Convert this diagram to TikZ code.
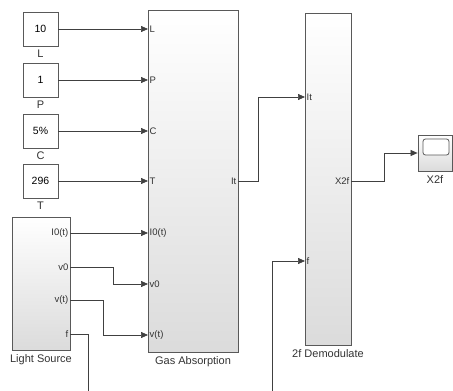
\documentclass[tikz,border=0pt]{standalone}
\usepackage{fontspec}
\setmainfont{Liberation Sans}
\usetikzlibrary{arrows.meta,positioning}

\begin{document}
\begin{tikzpicture}[x=1pt,y=-1pt,
    block/.style={draw=black!65,line width=0.8pt,top color=white,bottom color=black!14,inner sep=0pt},
    const/.style={draw=black!65,line width=0.8pt,fill=white,minimum width=35pt,minimum height=34pt,
                  inner sep=0pt,font=\fontsize{10.5}{12}\selectfont},
    port/.style={font=\fontsize{9.5}{11}\selectfont,inner sep=1.5pt,text=black!80},
    title/.style={font=\fontsize{11}{13}\selectfont,inner sep=0pt,text=black!80},
    wire/.style={draw=black!75,line width=0.7pt,-{Triangle[length=7pt,width=6pt]}},
    line/.style={draw=black!75,line width=0.7pt}
  ]
  \useasboundingbox (0,0) rectangle (453,391);

  % constants
  \node[const] (cL) at (40.5,29) {10};
  \node[const] (cP) at (40.5,80) {1};
  \node[const] (cC) at (40.5,131) {5\%};
  \node[const] (cT) at (40.5,181) {296};
  \node[title,below=3.5pt of cL] (tL) {L};
  \node[title,below=3.5pt of cP] (tP) {P};
  \node[title,below=3.5pt of cC] (tC) {C};
  \node[title,below=3.5pt of cT] (tT) {T};

  % blocks
  \node[block,minimum width=58pt,minimum height=133pt] (ls) at (41,283.5) {};
  \node[block,minimum width=90pt,minimum height=342pt] (ga) at (193,181) {};
  \node[block,minimum width=46pt,minimum height=332pt] (dm) at (328,179) {};
  \node[block,minimum width=34pt,minimum height=36pt] (sc) at (435,153) {};
  \node[draw=black!65,line width=0.8pt,rounded corners=2.5pt,fill=white,
        minimum width=26pt,minimum height=16pt,inner sep=0pt] (scr) at (436,147) {};
  \node[title,below=4pt of ls] (tls) {Light Source};
  \node[title,below=4pt of ga] (tga) {Gas Absorption};
  \node[title,below=4pt of dm] (tdm) {2f Demodulate};
  \node[title,below=4pt of sc] (tsc) {X2f};

  % ports
  \coordinate (gaL) at (148,29);
  \coordinate (gaP) at (148,80);
  \coordinate (gaC) at (148,131);
  \coordinate (gaT) at (148,181);
  \coordinate (gaI) at (148,233);
  \coordinate (gaV) at (148,284);
  \coordinate (gaVt) at (148,335);
  \coordinate (gaIt) at (238,181);
  \coordinate (lsI) at (70,233);
  \coordinate (lsV) at (70,267);
  \coordinate (lsVt) at (70,300);
  \coordinate (lsF) at (70,334);
  \coordinate (dmIt) at (305,97);
  \coordinate (dmF) at (305,261);
  \coordinate (dmX) at (351,181);
  \coordinate (fA) at (88,391);
  \coordinate (fB) at (272,391);

  \node[port,anchor=west] (pL) at (gaL) {L};
  \node[port,anchor=west] (pP) at (gaP) {P};
  \node[port,anchor=west] (pC) at (gaC) {C};
  \node[port,anchor=west] (pT) at (gaT) {T};
  \node[port,anchor=west] (pI) at (gaI) {I0(t)};
  \node[port,anchor=west] (pV) at (gaV) {v0};
  \node[port,anchor=west] (pVt) at (gaVt) {v(t)};
  \node[port,anchor=east] (pIt) at (gaIt) {It};
  \node[port,anchor=east] (qI) at (lsI) {I0(t)};
  \node[port,anchor=east] (qV) at (lsV) {v0};
  \node[port,anchor=east] (qVt) at (lsVt) {v(t)};
  \node[port,anchor=east] (qF) at (lsF) {f};
  \node[port,anchor=west] (rIt) at (dmIt) {It};
  \node[port,anchor=west] (rF) at (dmF) {f};
  \node[port,anchor=east] (rX) at (dmX) {X2f};

  % wires
  \draw[wire] (cL.east) -- (gaL);
  \draw[wire] (cP.east) -- (gaP);
  \draw[wire] (cC.east) -- (gaC);
  \draw[wire] (cT.east) -- (gaT);
  \draw[wire] (lsI) -- (gaI);
  \draw[wire] (lsV) -- ++(43,0) |- (gaV);
  \draw[wire] (lsVt) -- ++(33,0) |- (gaVt);
  \draw[line] (lsF) -| (fA);
  \draw[wire] (gaIt) -- ++(20,0) |- (dmIt);
  \draw[wire] (fB) |- (dmF);
  \draw[wire] (dmX) -- ++(33,0) |- (sc.west);
\end{tikzpicture}
\end{document}
